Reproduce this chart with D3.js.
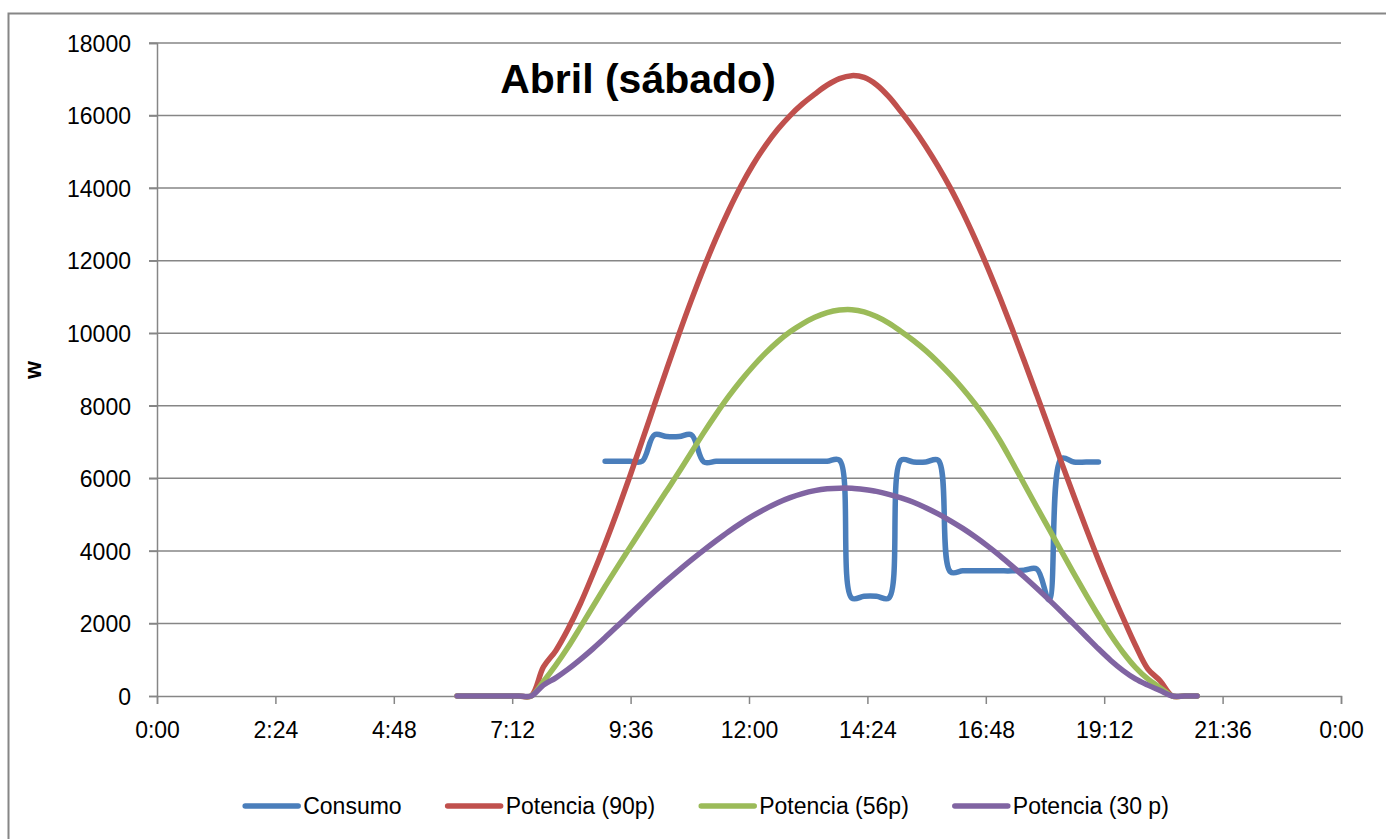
<!DOCTYPE html>
<html>
<head>
<meta charset="utf-8">
<script src="https://cdnjs.cloudflare.com/ajax/libs/d3/7.8.5/d3.min.js"></script>
<style>
  body { margin: 0; background: #fff; }
  text { font-family: "Liberation Sans", Arial, sans-serif; fill: #000; }
</style>
</head>
<body>
<div class="chart"></div>
<script>
// time of day for each reading (15 min steps)
const times = ["6:05","6:20","6:35","6:50","7:05","7:20","7:35","7:50","8:05","8:20",
  "8:35","8:50","9:05","9:20","9:35","9:50","10:05","10:20","10:35","10:50",
  "11:05","11:20","11:35","11:50","12:05","12:20","12:35","12:50","13:05","13:20",
  "13:35","13:50","14:05","14:20","14:35","14:50","15:05","15:20","15:35","15:50",
  "16:05","16:20","16:35","16:50","17:05","17:20","17:35","17:50","18:05","18:20",
  "18:35","18:50","19:05","19:20","19:35","19:50","20:05","20:20","20:35","20:50","21:05"];

const consumo = [null,null,null,null,null,null,null,null,null,null,null,null,
  6470,6470,6470,6470,7200,7150,7150,7200,6450,
  6470,6470,6470,6470,6470,6470,6470,6470,6470,6470,6500,
  2700,2750,2750,2700,6500,6450,6450,6500,3420,
  3450,3450,3450,3450,3450,3470,3500,2650,6550,6450,6450,6450,
  null,null,null,null,null,null,null,null];

const potencia90 = [0,0,0,0,0,0,0,
  800,1250,1850,2550,3350,4200,5100,6050,7030,8030,
  9020,9990,10920,11800,12620,13370,14050,14650,15170,15620,
  16000,16320,16590,16840,17020,17100,17050,16850,16520,16100,
  15650,15150,14600,14000,13330,12600,11820,10990,10120,9220,
  8300,7370,6440,5520,4620,3750,2930,2150,1400,750,
  420,0,0,0];

const potencia56 = [0,0,0,0,0,0,0,
  400,850,1350,1900,2460,3020,3560,4090,4620,5140,
  5660,6180,6720,7260,7770,8250,8690,9090,9450,9770,
  10040,10260,10440,10570,10640,10650,10590,10460,10280,10050,
  9800,9520,9200,8850,8470,8050,7580,7050,6450,5830,
  5210,4600,3990,3380,2790,2220,1680,1200,790,470,
  230,0,0,0];

const potencia30 = [0,0,0,0,0,0,0,
  300,500,740,1010,1300,1610,1930,2250,2570,2880,
  3180,3470,3750,4020,4280,4530,4760,4970,5160,5330,
  5470,5580,5660,5710,5730,5725,5690,5640,5560,5460,
  5340,5190,5020,4830,4620,4390,4140,3870,3580,3280,
  2970,2650,2320,1980,1640,1300,980,700,470,300,
  150,0,0,0];

const seriesNames = ["Consumo", "Potencia (90p)", "Potencia (56p)", "Potencia (30 p)"];
const seriesColors = ["#4a7ebb", "#c0504d", "#9bbb59", "#8064a2"];
const yTicks = [0, 2000, 4000, 6000, 8000, 10000, 12000, 14000, 16000, 18000];

const width = 1386;
const height = 839;
const plotLeft = 157, plotRight = 1341, plotTop = 43, plotBottom = 696;

const svg = d3.select(".chart").append("svg")
  .attr("width", width)
  .attr("height", height);

// chart frame (runs off the right and bottom edge)
svg.append("rect")
  .attr("x", 8.5).attr("y", 13.5)
  .attr("width", 1398).attr("height", 900)
  .attr("fill", "#fff")
  .attr("stroke", "#868686")
  .attr("stroke-width", 2);

function toHours(t) {
  const p = t.split(":");
  return +p[0] + +p[1] / 60;
}

const x = d3.scaleLinear().domain([0, 24]).range([plotLeft, plotRight]);
const y = d3.scaleLinear().domain([0, 18000]).range([plotBottom, plotTop]);

// gridlines
svg.append("g")
  .selectAll("line")
  .data(yTicks.slice(1))
  .enter()
  .append("line")
  .attr("x1", plotLeft - 8).attr("x2", plotRight)
  .attr("y1", d => y(d)).attr("y2", d => y(d))
  .attr("stroke", "#868686")
  .attr("stroke-width", 1.5);

const xTicks = d3.range(0, 11).map(i => i * 2.4);
const fmt = h => {
  const m = Math.round((h % 24) * 60);
  return Math.floor(m / 60) + ":" + String(m % 60).padStart(2, "0");
};

const xAxis = svg.append("g")
  .attr("transform", "translate(0," + plotBottom + ")")
  .call(d3.axisBottom(x).tickValues(xTicks).tickFormat(fmt).tickSize(8).tickPadding(18));

const yAxis = svg.append("g")
  .attr("transform", "translate(" + plotLeft + ",0)")
  .call(d3.axisLeft(y).tickValues(yTicks).tickFormat(d3.format("d")).tickSize(8).tickPadding(18));

[xAxis, yAxis].forEach(g => {
  g.select(".domain").attr("stroke", "#868686").attr("stroke-width", 1.5);
  g.selectAll(".tick line").attr("stroke", "#868686").attr("stroke-width", 1.5);
  g.selectAll(".tick text")
    .attr("font-family", "Liberation Sans, Arial, sans-serif")
    .attr("font-size", "23px")
    .attr("fill", "#000");
});
yAxis.selectAll(".tick text").attr("dy", "0.36em");
xAxis.selectAll(".tick text").attr("dy", "0.71em");

// series lines
const allSeries = [consumo, potencia90, potencia56, potencia30];
const line = d3.line()
  .defined(d => d.v !== null)
  .x(d => x(d.h))
  .y(d => y(d.v))
  .curve(d3.curveCatmullRom.alpha(0.5));

allSeries.forEach((vals, i) => {
  const pts = times.map((t, j) => ({ h: toHours(t), v: vals[j] }));
  svg.append("path")
    .datum(pts)
    .attr("d", line)
    .attr("fill", "none")
    .attr("stroke", seriesColors[i])
    .attr("stroke-width", 5.5)
    .attr("stroke-linecap", "round")
    .attr("stroke-linejoin", "round");
});

// title
svg.append("text")
  .attr("x", 638).attr("y", 93)
  .attr("text-anchor", "middle")
  .attr("font-size", "41px")
  .attr("font-weight", "bold")
  .text("Abril (sábado)");

// y label
svg.append("text")
  .attr("transform", "translate(41,370) rotate(-90)")
  .attr("text-anchor", "middle")
  .attr("font-size", "23px")
  .attr("font-weight", "bold")
  .text("w");

// legend
const legend = svg.append("g");
const items = legend.selectAll("g")
  .data(seriesNames)
  .enter()
  .append("g");

items.append("line")
  .attr("x1", 0).attr("x2", 53)
  .attr("y1", 806).attr("y2", 806)
  .attr("stroke", (d, i) => seriesColors[i])
  .attr("stroke-width", 5.5)
  .attr("stroke-linecap", "round");

items.append("text")
  .attr("x", 58).attr("y", 814)
  .attr("font-size", "23px")
  .text(d => d);

const gap = 46;
const widths = [];
items.each(function () {
  widths.push(58 + d3.select(this).select("text").node().getComputedTextLength());
});
const total = d3.sum(widths) + gap * (widths.length - 1);
let offset = 707 - total / 2;
items.attr("transform", function (d, i) {
  const tx = offset;
  offset += widths[i] + gap;
  return "translate(" + tx + ",0)";
});
</script>
</body>
</html>
